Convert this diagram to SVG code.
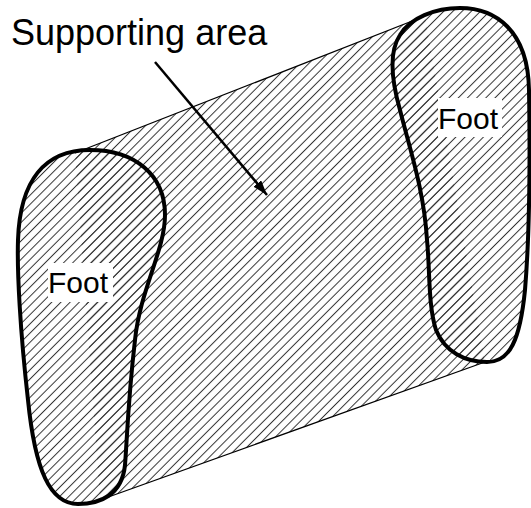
<svg xmlns="http://www.w3.org/2000/svg" width="531" height="508" viewBox="0 0 531 508">
<style>
.foot{fill:url(#hatch);stroke:#000;stroke-width:4;stroke-linejoin:round}
.hull{fill:url(#hatch);stroke:none}
.edge{stroke:#000;stroke-width:1.3;fill:none}
.lbl{font-family:"Liberation Sans",Arial,sans-serif;fill:#000}
.box{fill:#fff;stroke:none}
</style>
<defs>
<pattern id="hatch" patternUnits="userSpaceOnUse" width="6.5" height="6.5" patternTransform="rotate(-45)">
<line x1="-1" y1="3.25" x2="7.5" y2="3.25" stroke="#333" stroke-width="1"/>
</pattern>
<marker id="ah" markerUnits="userSpaceOnUse" markerWidth="16" markerHeight="12" refX="15" refY="5" orient="auto">
<path d="M0,0 L15,5 L0,10 Z" fill="#000"/>
</marker>
</defs>
<g id="supporting-area">
<path class="hull" d="M75,153 L425,16 L485,362 L100,500 Z"/>
<line class="edge" x1="75" y1="153" x2="425" y2="16"/>
<line class="edge" x1="100" y1="500" x2="485" y2="362"/>
</g>
<g id="left-foot">
<path class="foot" d="M90,150 C135,150 165,175 165,215 C165,250 140,290 135,340 C128,400 127,440 125,465 C122,495 100,504 78,504 C50,504 35,470 28,400 C20,330 17,270 18,240 C20,180 45,150 90,150 Z"/>
<rect class="box" x="48" y="263" width="65" height="39"/>
<text class="lbl" x="48" y="293" font-size="30">Foot</text>
</g>
<g id="right-foot">
<path class="foot" d="M460,8 C495,8 528,30 529,90 C530,150 530,230 525,290 C520,340 510,362 487,362 C465,362 445,352 436,330 C428,305 430,270 427,240 C424,190 410,150 400,110 C390,75 390,50 400,35 C410,18 435,8 460,8 Z"/>
<rect class="box" x="438" y="98" width="64" height="39"/>
<text class="lbl" x="438" y="129" font-size="30">Foot</text>
</g>
<g id="title">
<text class="lbl" x="11" y="45" font-size="36">Supporting area</text>
</g>
<g id="connectors">
<line x1="155" y1="62" x2="267" y2="195" stroke="#000" stroke-width="2.5" marker-end="url(#ah)"/>
</g>
</svg>
